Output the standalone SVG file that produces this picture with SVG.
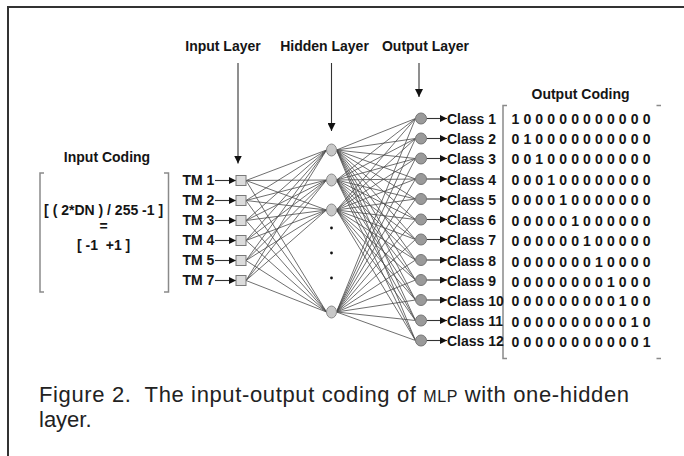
<svg xmlns="http://www.w3.org/2000/svg" width="684" height="456" viewBox="0 0 684 456">
<defs>
<style>
.b{font-family:"Liberation Sans",Arial,sans-serif;font-weight:bold;font-size:14px;fill:#151515}
.hdr{text-anchor:middle}
.code{font-family:"Liberation Sans",Arial,sans-serif;font-weight:bold;font-size:14px;fill:#151515}
.cap{font-family:"Liberation Sans",Arial,sans-serif;font-size:22px;fill:#222}
.sq{fill:#dcdcdc;stroke:#7a7a7a;stroke-width:1}
.hn{fill:#c8c8c8;stroke:#8a8a8a;stroke-width:1}
.on{fill:#9a9a9a;stroke:#777;stroke-width:1}
.w{fill:none;stroke:#4a4a4a;stroke-width:0.8}
.ar{fill:none;stroke:#333;stroke-width:1.1}
.br{fill:none;stroke:#8a8a8a;stroke-width:1.5}
</style>
<marker id="ah" viewBox="0 0 8 8" refX="8" refY="4" markerWidth="8" markerHeight="8" markerUnits="userSpaceOnUse" orient="auto">
<path d="M0,0L8,4L0,8z" fill="#111"/>
</marker>
<marker id="sh" viewBox="0 0 8 8" refX="8" refY="4" markerWidth="7" markerHeight="7" markerUnits="userSpaceOnUse" orient="auto">
<path d="M0,0L8,4L0,8z" fill="#111"/>
</marker>
</defs>
<rect width="684" height="456" fill="#fff"/>
<path d="M8,460V7H684" fill="none" stroke="#333" stroke-width="2"/>

<g id="labels">
<text class="b hdr" x="223" y="50.5">Input Layer</text>
<text class="b hdr" x="324.5" y="50.5">Hidden Layer</text>
<text class="b hdr" x="425.5" y="50.5">Output Layer</text>
</g>

<g id="input-coding">
<text class="b hdr" x="107" y="162">Input Coding</text>
<path class="br" d="M44,173H40V292H44M164,173H168.5V292H164"/>
<text class="b hdr" x="103.6" y="215">[ ( 2*DN ) / 255 -1 ]</text>
<text class="b hdr" x="103.6" y="231">=</text>
<text class="b hdr" x="103.6" y="250" xml:space="preserve">[ -1  +1 ]</text>
</g>

<g id="output-coding">
<text class="b hdr" x="580.5" y="98.5">Output Coding</text>
<path class="br" d="M507,105.5H503V358.5H507M656.5,105.5H661M656.5,358.5H661"/>
<text class="code" x="511.5" y="124" textLength="139">1 0 0 0 0 0 0 0 0 0 0 0</text>
<text class="code" x="511.5" y="144" textLength="139">0 1 0 0 0 0 0 0 0 0 0 0</text>
<text class="code" x="511.5" y="164" textLength="139">0 0 1 0 0 0 0 0 0 0 0 0</text>
<text class="code" x="511.5" y="184.5" textLength="139">0 0 0 1 0 0 0 0 0 0 0 0</text>
<text class="code" x="511.5" y="205" textLength="139">0 0 0 0 1 0 0 0 0 0 0 0</text>
<text class="code" x="511.5" y="226" textLength="139">0 0 0 0 0 1 0 0 0 0 0 0</text>
<text class="code" x="511.5" y="246" textLength="139">0 0 0 0 0 0 1 0 0 0 0 0</text>
<text class="code" x="511.5" y="266.5" textLength="139">0 0 0 0 0 0 0 1 0 0 0 0</text>
<text class="code" x="511.5" y="286.5" textLength="139">0 0 0 0 0 0 0 0 1 0 0 0</text>
<text class="code" x="511.5" y="306" textLength="139">0 0 0 0 0 0 0 0 0 1 0 0</text>
<text class="code" x="511.5" y="326.5" textLength="139">0 0 0 0 0 0 0 0 0 0 1 0</text>
<text class="code" x="511.5" y="346.5" textLength="139">0 0 0 0 0 0 0 0 0 0 0 1</text>
</g>

<g id="connectors">
<line class="ar" x1="238" y1="63" x2="238" y2="163.5" marker-end="url(#ah)"/>
<line class="ar" x1="331.5" y1="63" x2="331.5" y2="131" marker-end="url(#ah)"/>
<line class="ar" x1="419" y1="63" x2="419" y2="97" marker-end="url(#ah)"/>
<g class="ar">
<line x1="215" y1="180.5" x2="236" y2="180.5" marker-end="url(#sh)"/>
<line x1="215" y1="200.5" x2="236" y2="200.5" marker-end="url(#sh)"/>
<line x1="215" y1="220.5" x2="236" y2="220.5" marker-end="url(#sh)"/>
<line x1="215" y1="240.5" x2="236" y2="240.5" marker-end="url(#sh)"/>
<line x1="215" y1="260.5" x2="236" y2="260.5" marker-end="url(#sh)"/>
<line x1="215" y1="280.5" x2="236" y2="280.5" marker-end="url(#sh)"/>
<line x1="426.5" y1="118.5" x2="447" y2="118.5" marker-end="url(#sh)"/>
<line x1="426.5" y1="138.5" x2="447" y2="138.5" marker-end="url(#sh)"/>
<line x1="426.5" y1="158.5" x2="447" y2="158.5" marker-end="url(#sh)"/>
<line x1="426.5" y1="179" x2="447" y2="179" marker-end="url(#sh)"/>
<line x1="426.5" y1="199" x2="447" y2="199" marker-end="url(#sh)"/>
<line x1="426.5" y1="219.5" x2="447" y2="219.5" marker-end="url(#sh)"/>
<line x1="426.5" y1="239.5" x2="447" y2="239.5" marker-end="url(#sh)"/>
<line x1="426.5" y1="260" x2="447" y2="260" marker-end="url(#sh)"/>
<line x1="426.5" y1="280" x2="447" y2="280" marker-end="url(#sh)"/>
<line x1="426.5" y1="300" x2="447" y2="300" marker-end="url(#sh)"/>
<line x1="426.5" y1="320.5" x2="447" y2="320.5" marker-end="url(#sh)"/>
<line x1="426.5" y1="340.5" x2="447" y2="340.5" marker-end="url(#sh)"/>
</g>
<path class="w" d="M246,180.5L326.5,150M246,180.5L326.5,180M246,180.5L326.5,210M246,180.5L326.5,312
M246,200.5L326.5,150M246,200.5L326.5,180M246,200.5L326.5,210M246,200.5L326.5,312
M246,220.5L326.5,150M246,220.5L326.5,180M246,220.5L326.5,210M246,220.5L326.5,312
M246,240.5L326.5,150M246,240.5L326.5,180M246,240.5L326.5,210M246,240.5L326.5,312
M246,260.5L326.5,150M246,260.5L326.5,180M246,260.5L326.5,210M246,260.5L326.5,312
M246,280.5L326.5,150M246,280.5L326.5,180M246,280.5L326.5,210M246,280.5L326.5,312"/>
<path class="w" d="M336.5,150L415.5,118.5M336.5,150L415.5,138.5M336.5,150L415.5,158.5M336.5,150L415.5,179M336.5,150L415.5,199M336.5,150L415.5,219.5M336.5,150L415.5,239.5M336.5,150L415.5,260M336.5,150L415.5,280M336.5,150L415.5,300M336.5,150L415.5,320.5M336.5,150L415.5,340.5
M336.5,180L415.5,118.5M336.5,180L415.5,138.5M336.5,180L415.5,158.5M336.5,180L415.5,179M336.5,180L415.5,199M336.5,180L415.5,219.5M336.5,180L415.5,239.5M336.5,180L415.5,260M336.5,180L415.5,280M336.5,180L415.5,300M336.5,180L415.5,320.5M336.5,180L415.5,340.5
M336.5,210L415.5,118.5M336.5,210L415.5,138.5M336.5,210L415.5,158.5M336.5,210L415.5,179M336.5,210L415.5,199M336.5,210L415.5,219.5M336.5,210L415.5,239.5M336.5,210L415.5,260M336.5,210L415.5,280M336.5,210L415.5,300M336.5,210L415.5,320.5M336.5,210L415.5,340.5
M336.5,312L415.5,118.5M336.5,312L415.5,138.5M336.5,312L415.5,158.5M336.5,312L415.5,179M336.5,312L415.5,199M336.5,312L415.5,219.5M336.5,312L415.5,239.5M336.5,312L415.5,260M336.5,312L415.5,280M336.5,312L415.5,300M336.5,312L415.5,320.5M336.5,312L415.5,340.5"/>
</g>

<g id="in-tm1"><text class="b" x="182.5" y="185">TM 1</text><rect class="sq" x="236" y="175.5" width="10" height="10"/></g>
<g id="in-tm2"><text class="b" x="182.5" y="205">TM 2</text><rect class="sq" x="236" y="195.5" width="10" height="10"/></g>
<g id="in-tm3"><text class="b" x="182.5" y="225">TM 3</text><rect class="sq" x="236" y="215.5" width="10" height="10"/></g>
<g id="in-tm4"><text class="b" x="182.5" y="245">TM 4</text><rect class="sq" x="236" y="235.5" width="10" height="10"/></g>
<g id="in-tm5"><text class="b" x="182.5" y="265">TM 5</text><rect class="sq" x="236" y="255.5" width="10" height="10"/></g>
<g id="in-tm7"><text class="b" x="182.5" y="285">TM 7</text><rect class="sq" x="236" y="275.5" width="10" height="10"/></g>

<g id="hid-1"><ellipse class="hn" cx="331.5" cy="150" rx="5" ry="6"/></g>
<g id="hid-2"><ellipse class="hn" cx="331.5" cy="180" rx="5" ry="6"/></g>
<g id="hid-3"><ellipse class="hn" cx="331.5" cy="210" rx="5" ry="6"/></g>
<g id="hid-dots" fill="#111"><circle cx="331.5" cy="228" r="1.4"/><circle cx="331.5" cy="253" r="1.4"/><circle cx="331.5" cy="278" r="1.4"/></g>
<g id="hid-n"><ellipse class="hn" cx="331.5" cy="312" rx="5" ry="6"/></g>

<g id="out-1"><circle class="on" cx="421" cy="118.5" r="5.5"/><text class="b" x="447" y="124">Class 1</text></g>
<g id="out-2"><circle class="on" cx="421" cy="138.5" r="5.5"/><text class="b" x="447" y="144">Class 2</text></g>
<g id="out-3"><circle class="on" cx="421" cy="158.5" r="5.5"/><text class="b" x="447" y="164">Class 3</text></g>
<g id="out-4"><circle class="on" cx="421" cy="179" r="5.5"/><text class="b" x="447" y="184.5">Class 4</text></g>
<g id="out-5"><circle class="on" cx="421" cy="199" r="5.5"/><text class="b" x="447" y="204.5">Class 5</text></g>
<g id="out-6"><circle class="on" cx="421" cy="219.5" r="5.5"/><text class="b" x="447" y="225">Class 6</text></g>
<g id="out-7"><circle class="on" cx="421" cy="239.5" r="5.5"/><text class="b" x="447" y="245">Class 7</text></g>
<g id="out-8"><circle class="on" cx="421" cy="260" r="5.5"/><text class="b" x="447" y="265.5">Class 8</text></g>
<g id="out-9"><circle class="on" cx="421" cy="280" r="5.5"/><text class="b" x="447" y="285.5">Class 9</text></g>
<g id="out-10"><circle class="on" cx="421" cy="300" r="5.5"/><text class="b" x="447" y="305.5">Class 10</text></g>
<g id="out-11"><circle class="on" cx="421" cy="320.5" r="5.5"/><text class="b" x="447" y="326">Class 11</text></g>
<g id="out-12"><circle class="on" cx="421" cy="340.5" r="5.5"/><text class="b" x="447" y="346">Class 12</text></g>

<g id="caption">
<text class="cap" x="39" y="402" textLength="590" lengthAdjust="spacing" xml:space="preserve">Figure 2.  The input-output coding of <tspan font-size="16">MLP</tspan> with one-hidden</text>
<text class="cap" x="39" y="427">layer.</text>
</g>
</svg>
